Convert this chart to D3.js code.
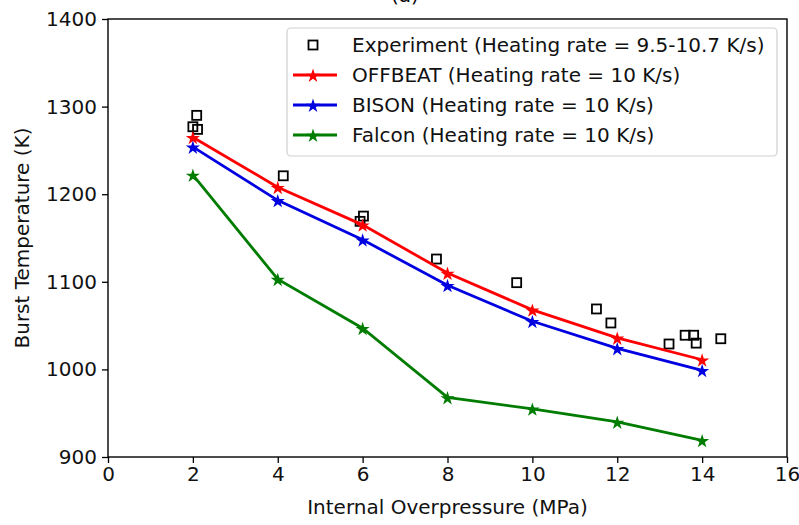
<!DOCTYPE html>
<html>
<head>
<meta charset="utf-8">
<script src="https://cdn.jsdelivr.net/npm/d3@7"></script>
<style>
  body { margin: 0; background: #fff; }
  svg { display: block; font-family: "DejaVu Sans", sans-serif; }
</style>
</head>
<body>
<svg id="chart" width="799" height="525"></svg>
<script>
// data
var pressures = [2, 4, 6, 8, 10, 12, 14];
var offbeat = [1265, 1208, 1165, 1110, 1068, 1036, 1011];
var bison = [1254, 1193, 1148, 1096, 1055, 1024, 999];
var falcon = [1222, 1103, 1047, 968, 955, 940, 919];

var expP = [2.0, 2.09, 2.11, 4.13, 5.94, 6.02, 7.74, 9.63, 11.51, 11.85, 13.22, 13.6, 13.8, 13.86, 14.44];
var expT = [1277, 1290, 1274, 1221, 1169, 1175, 1126, 1099, 1069, 1053, 1029, 1039, 1039, 1030, 1035];

var xTicks = [0, 2, 4, 6, 8, 10, 12, 14, 16];
var yTicks = [900, 1000, 1100, 1200, 1300, 1400];

var legendLabels = [
  'Experiment (Heating rate = 9.5-10.7 K/s)',
  'OFFBEAT (Heating rate = 10 K/s)',
  'BISON (Heating rate = 10 K/s)',
  'Falcon (Heating rate = 10 K/s)'
];

var svg = d3.select('#chart');
var plotL = 108, plotR = 787, plotT = 19, plotB = 457;
var fs = 20;

var x = d3.scaleLinear().domain([0, 16]).range([plotL, plotR]);
var y = d3.scaleLinear().domain([900, 1400]).range([plotB, plotT]);

var series = [
  { name: 'OFFBEAT', vals: offbeat, color: '#ff0000' },
  { name: 'BISON', vals: bison, color: '#0000e0' },
  { name: 'Falcon', vals: falcon, color: '#007d00' }
];

// title, mostly cut off at the top like the original
svg.append('text')
  .attr('x', 405).attr('y', 1.5)
  .attr('text-anchor', 'middle')
  .style('font-size', fs + 'px')
  .text('(a)');

// axes
var xAxis = svg.append('g')
  .attr('transform', 'translate(0,' + plotB + ')')
  .call(d3.axisBottom(x).tickValues(xTicks).tickSize(6).tickPadding(4));
var yAxis = svg.append('g')
  .attr('transform', 'translate(' + plotL + ',0)')
  .call(d3.axisLeft(y).tickValues(yTicks).tickSize(6).tickPadding(5).tickFormat(d3.format('d')));

[xAxis, yAxis].forEach(function(a) {
  a.select('.domain').remove();
  a.selectAll('line').attr('stroke', '#000').attr('stroke-width', 1.3);
  a.selectAll('text').style('font-size', fs + 'px').attr('fill', '#111')
    .style('font-family', '"DejaVu Sans", sans-serif');
});

var star = d3.symbol().type(d3.symbolStar).size(62);
var line = d3.line()
  .x(function(d, i) { return x(pressures[i]); })
  .y(function(d) { return y(d); });

// experiment squares first (they sit under the lines)
svg.append('g').selectAll('rect')
  .data(expT)
  .enter().append('rect')
  .attr('x', function(d, i) { return x(expP[i]) - 4.5; })
  .attr('y', function(d) { return y(d) - 4.5; })
  .attr('width', 9).attr('height', 9)
  .attr('fill', 'none')
  .attr('stroke', '#000')
  .attr('stroke-width', 1.8);

series.forEach(function(s) {
  svg.append('path')
    .datum(s.vals)
    .attr('d', line)
    .attr('fill', 'none')
    .attr('stroke', s.color)
    .attr('stroke-width', 2.8);
  svg.append('g').selectAll('path')
    .data(s.vals)
    .enter().append('path')
    .attr('d', star)
    .attr('transform', function(d, i) { return 'translate(' + x(pressures[i]) + ',' + (y(d) + 1) + ')'; })
    .attr('fill', s.color);
});

// frame
svg.append('rect')
  .attr('x', plotL).attr('y', plotT)
  .attr('width', plotR - plotL).attr('height', plotB - plotT)
  .attr('fill', 'none').attr('stroke', '#000').attr('stroke-width', 1.4);

// axis labels
svg.append('text')
  .attr('x', (plotL + plotR) / 2).attr('y', 514)
  .attr('text-anchor', 'middle')
  .style('font-size', fs + 'px').attr('fill', '#111')
  .text('Internal Overpressure (MPa)');
svg.append('text')
  .attr('transform', 'translate(29,' + (plotT + plotB) / 2 + ') rotate(-90)')
  .attr('text-anchor', 'middle')
  .style('font-size', fs + 'px').attr('fill', '#111')
  .text('Burst Temperature (K)');

// legend
var lg = svg.append('g');
lg.append('rect')
  .attr('x', 287).attr('y', 28).attr('width', 490).attr('height', 128)
  .attr('rx', 4)
  .attr('fill', 'rgba(255,255,255,0.85)')
  .attr('stroke', '#d0d0d0').attr('stroke-width', 1.2);

legendLabels.forEach(function(lab, i) {
  var cy = 45 + i * 30;
  if (i === 0) {
    lg.append('rect')
      .attr('x', 313 - 4.5).attr('y', cy - 4.5).attr('width', 9).attr('height', 9)
      .attr('fill', 'none').attr('stroke', '#000').attr('stroke-width', 1.8);
  } else {
    var c = series[i - 1].color;
    lg.append('line')
      .attr('x1', 293).attr('x2', 337).attr('y1', cy).attr('y2', cy)
      .attr('stroke', c).attr('stroke-width', 2.8);
    lg.append('path').attr('d', star)
      .attr('transform', 'translate(313,' + (cy + 1) + ')')
      .attr('fill', c);
  }
  lg.append('text')
    .attr('x', 352).attr('y', cy)
    .attr('dy', '0.35em')
    .style('font-size', fs + 'px').attr('fill', '#111')
    .text(lab);
});
</script>
</body>
</html>
